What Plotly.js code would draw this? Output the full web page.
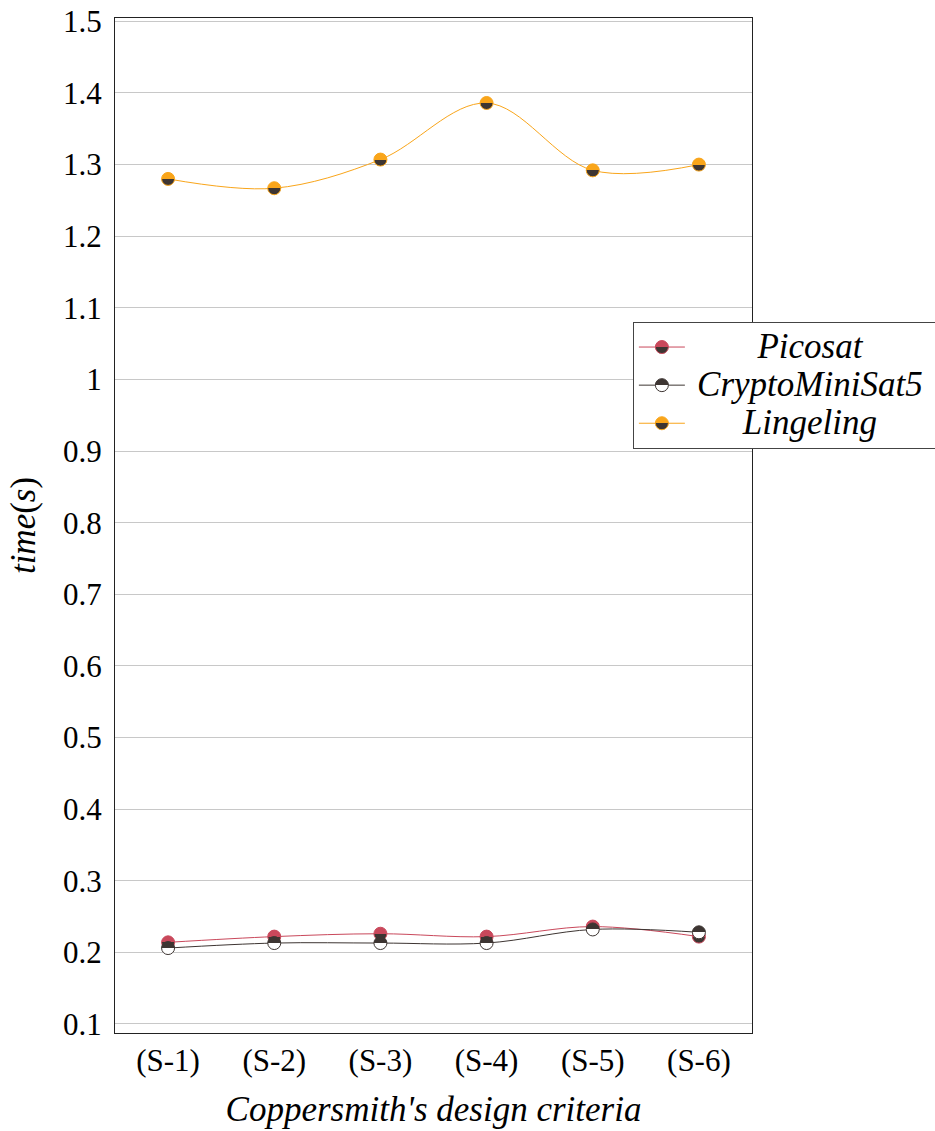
<!DOCTYPE html>
<html>
<head>
<meta charset="utf-8">
<script src="https://cdn.plot.ly/plotly-3.0.1.min.js"></script>
<style>html,body{margin:0;padding:0;background:#fff;}#chart{width:935px;height:1131px;}</style>
</head>
<body>
<div id="chart"></div>
<script>
var categories = ["(S-1)", "(S-2)", "(S-3)", "(S-4)", "(S-5)", "(S-6)"];
var picosat = [0.214, 0.222, 0.226, 0.222, 0.236, 0.222];
var cryptominisat5 = [0.206, 0.213, 0.213, 0.213, 0.232, 0.228];
var lingeling = [1.280, 1.267, 1.307, 1.386, 1.292, 1.300];
var seriesNames = ["Picosat", "CryptoMiniSat5", "Lingeling"];
var yTicks = [0.1, 0.2, 0.3, 0.4, 0.5, 0.6, 0.7, 0.8, 0.9, 1, 1.1, 1.2, 1.3, 1.4, 1.5];

var RED = "#c9485b", DARK = "#3d3532", ORANGE = "#f9a51a";
var FONT = "'Liberation Serif', 'DejaVu Serif', serif";

function trace(name, y, lineColor, topColor, bottomColor, edge) {
  return {
    type: "scatter", mode: "lines+markers", name: name,
    x: categories, y: y,
    line: {color: lineColor, width: 1, shape: "spline", smoothing: 1},
    marker: {symbol: "circle", size: 13, color: topColor,
      gradient: {type: "vertical", color: bottomColor},
      line: {color: edge, width: 1}}
  };
}

var data = [
  trace("<i>" + seriesNames[0] + "</i>", picosat, RED, RED, DARK, RED),
  trace("<i>" + seriesNames[1] + "</i>", cryptominisat5, DARK, DARK, "#ffffff", DARK),
  trace("<i>" + seriesNames[2] + "</i>", lingeling, ORANGE, ORANGE, DARK, ORANGE)
];

var layout = {
  width: 935, height: 1131,
  margin: {l: 115, r: 183, t: 18, b: 98},
  paper_bgcolor: "#fff", plot_bgcolor: "#fff",
  font: {family: FONT, size: 31, color: "#000"},
  showlegend: true,
  legend: {x: 0.813, y: 0.7005, xanchor: "left", yanchor: "top",
    bgcolor: "#fff", bordercolor: "#444", borderwidth: 1,
    font: {family: FONT, size: 27, color: "#000"}, tracegroupgap: 0,
    itemwidth: 50},
  xaxis: {
    type: "category", range: [-0.5, 5.5],
    showgrid: false, zeroline: false,
    showline: true, mirror: true, linecolor: "#222", linewidth: 1,
    ticks: "", tickfont: {family: FONT, size: 31}, ticklabelstandoff: 0,
    title: {text: "<i>Coppersmith's design criteria</i>", font: {family: FONT, size: 35}, standoff: 19}
  },
  yaxis: {
    range: [0.0874, 1.5047],
    tickvals: yTicks, ticktext: yTicks.map(String),
    showgrid: true, gridcolor: "#c8c8c8", gridwidth: 1,
    zeroline: false, showline: true, mirror: true, linecolor: "#222", linewidth: 1,
    ticks: "", tickfont: {family: FONT, size: 31}, ticklabelstandoff: 6,
    title: {text: "<i>time</i>(<i>s</i>)", font: {family: FONT, size: 35}, standoff: 16}
  }
};

Plotly.newPlot("chart", data, layout, {staticPlot: true}).then(function () {
  var ns = "http://www.w3.org/2000/svg";
  document.querySelectorAll("linearGradient").forEach(function (g) {
    var stops = g.querySelectorAll("stop");
    if (stops.length !== 2) return;
    var ca = stops[0].getAttribute("stop-color"), cb = stops[1].getAttribute("stop-color");
    var oa = stops[0].getAttribute("stop-opacity"), ob = stops[1].getAttribute("stop-opacity");
    while (g.firstChild) g.removeChild(g.firstChild);
    [[0, ca, oa], [0.5, ca, oa], [0.5, cb, ob], [1, cb, ob]].forEach(function (s) {
      var st = document.createElementNS(ns, "stop");
      st.setAttribute("offset", (s[0] * 100) + "%");
      st.setAttribute("stop-color", s[1]);
      if (s[2] !== null) st.setAttribute("stop-opacity", s[2]);
      g.appendChild(st);
    });
  });
  // legend styling closer to the original: longer sample line, centred larger text, wider box
  var leg = document.querySelector(".legend");
  if (leg) {
    leg.querySelectorAll("[clip-path]").forEach(function (el) { el.removeAttribute("clip-path"); });
    var bg = leg.querySelector("rect.bg");
    var lx = leg.getBoundingClientRect().left;
    if (bg) bg.setAttribute("width", String(935 - lx + 2));
    leg.querySelectorAll(".legendlines path").forEach(function (p) { p.setAttribute("d", "M5,0h46"); });
    leg.querySelectorAll(".legendpoints path").forEach(function (p) { p.setAttribute("transform", "translate(28,0)"); });
    leg.querySelectorAll("text.legendtext").forEach(function (t) {
      t.setAttribute("x", "176");
      t.setAttribute("text-anchor", "middle");
      t.style.fontSize = "35px";
    });
  }
});
</script>
</body>
</html>
